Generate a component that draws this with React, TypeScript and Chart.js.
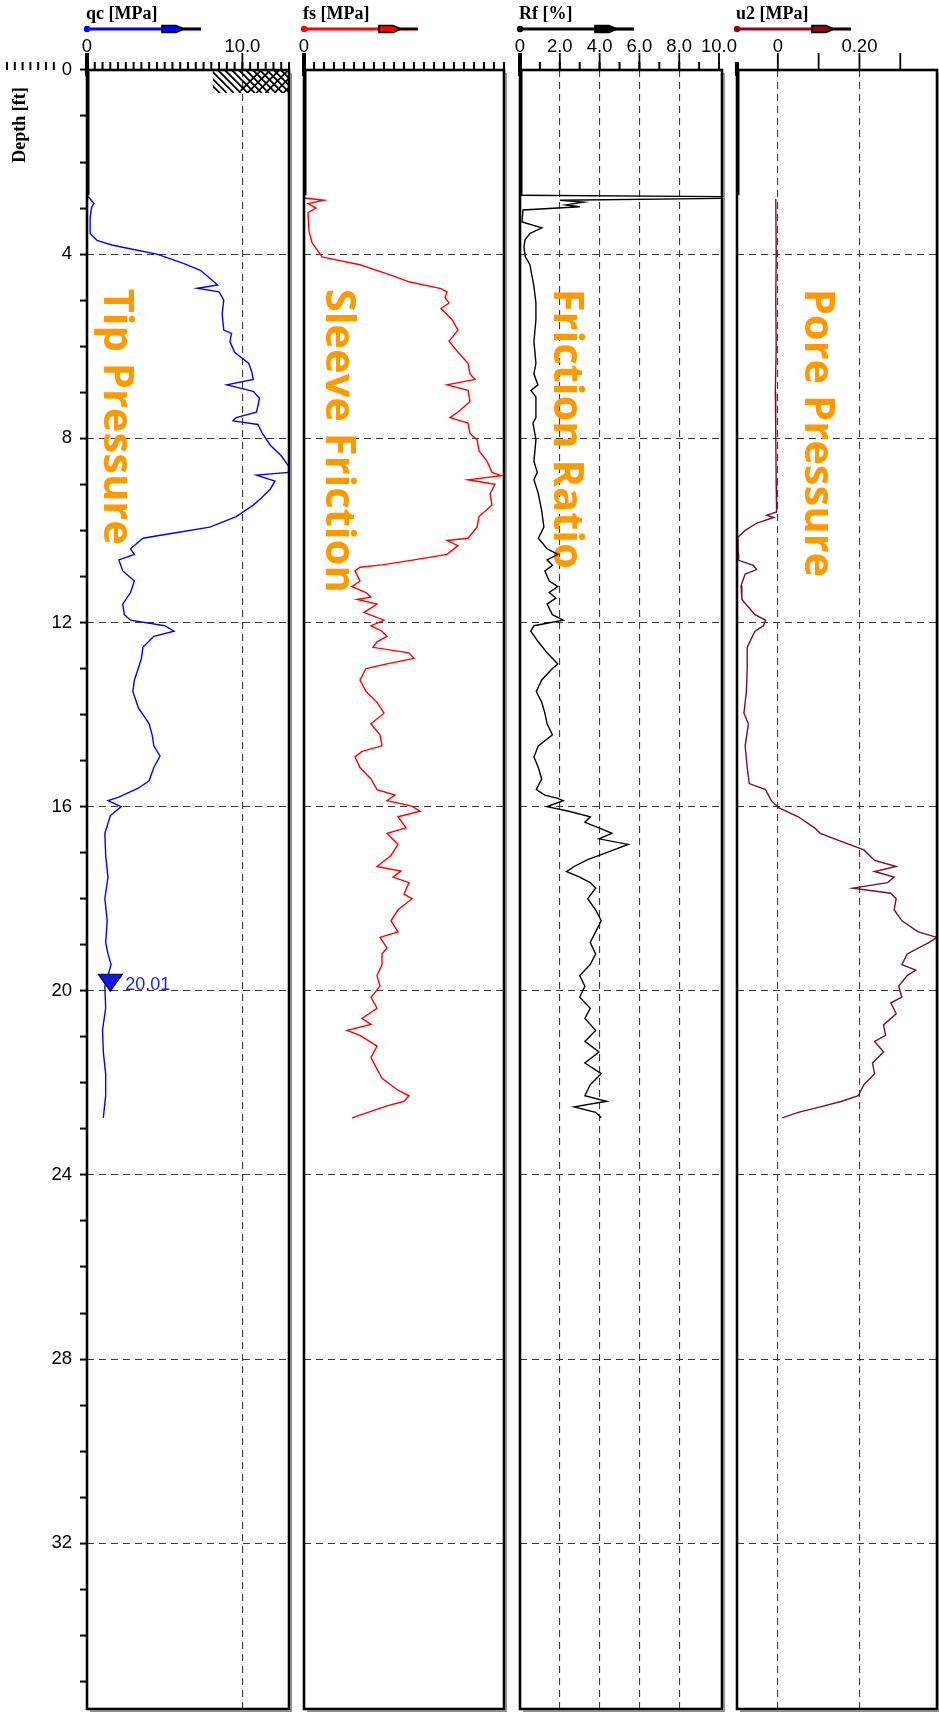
import React, { useEffect, useRef } from "react";
import { Chart, registerables } from "chart.js";

Chart.register(...registerables);

// ---------------- data ----------------
const DEPTH_MAX = 35.6;
const PREDRILL_DEPTH = 2.72;
const depthLabelValues = [0, 4, 8, 12, 16, 20, 24, 28, 32];
const depthGridValues = [4, 8, 12, 16, 20, 24, 28, 32];
const depthMinorStep = 1;

const WATER_DEPTH = 20.01;
const WATER_LABEL = "20.01";
const WATER_MARK_QC = 1.5;

const HATCH_QC_FROM = 8.1;
const HATCH_DEPTH_TO = 0.5;

// [depth ft, qc MPa]
const qcProfile: [number, number][] = [
  [2.72, 0], [2.9, 0.45], [2.98, 0.3], [3.2, 0.2], [3.55, 0.2], [3.7, 0.65], [3.8, 1.6], [3.9, 3.0],
  [4.0, 4.5], [4.2, 6.2], [4.35, 7.3], [4.55, 8.0], [4.67, 8.4], [4.74, 7.1], [4.82, 8.5], [5.0, 8.8],
  [5.3, 8.7], [5.65, 8.8], [5.72, 9.3], [5.9, 9.2], [6.13, 9.5], [6.37, 10.4], [6.55, 10.6], [6.72, 10.7],
  [6.84, 9.0], [6.98, 10.7], [7.13, 11.1], [7.3, 11.0], [7.43, 10.9], [7.55, 9.6], [7.62, 9.4], [7.7, 11.0],
  [7.9, 11.3], [8.15, 11.8], [8.38, 12.5], [8.62, 13.0], [8.74, 12.95], [8.8, 10.9], [8.93, 12.1], [9.1, 11.8],
  [9.3, 11.2], [9.45, 10.7], [9.7, 9.6], [9.93, 7.9], [10.05, 5.7], [10.17, 3.6], [10.4, 2.8], [10.52, 3.05],
  [10.64, 2.05], [10.88, 2.3], [11.1, 3.05], [11.35, 2.8], [11.6, 2.3], [11.83, 2.4], [11.95, 2.8], [12.07, 5.0],
  [12.19, 5.6], [12.3, 4.3], [12.54, 3.6], [12.78, 3.5], [13.0, 3.3], [13.25, 3.05], [13.5, 2.95], [13.85, 3.3],
  [14.2, 4.0], [14.45, 4.2], [14.68, 4.3], [14.9, 4.7], [15.15, 4.3], [15.44, 4.0], [15.6, 3.3], [15.8, 2.0],
  [15.87, 1.35], [16.0, 2.2], [16.2, 1.5], [16.58, 1.15], [17.05, 1.2], [17.53, 1.35], [18.0, 1.15], [18.48, 1.3],
  [18.95, 1.2], [19.2, 1.35], [19.43, 1.55], [19.67, 1.35], [19.9, 1.15], [20.38, 1.2], [20.85, 1.0], [21.33, 1.05],
  [21.8, 1.2], [22.28, 1.2], [22.76, 1.05],
];

// [depth ft, fs MPa]
const fsProfile: [number, number][] = [
  [2.72, 0], [2.78, 0.001], [2.83, 0.02], [2.9, 0.004], [3.0, 0.012], [3.1, 0.004], [3.5, 0.005], [3.75, 0.008],
  [3.9, 0.013], [4.06, 0.018], [4.23, 0.056], [4.47, 0.089], [4.6, 0.105], [4.75, 0.137], [4.82, 0.143], [4.94, 0.141],
  [5.06, 0.145], [5.18, 0.137], [5.42, 0.148], [5.65, 0.154], [5.89, 0.145], [6.13, 0.154], [6.25, 0.159], [6.37, 0.164],
  [6.6, 0.166], [6.72, 0.171], [6.84, 0.143], [6.96, 0.164], [7.2, 0.166], [7.43, 0.154], [7.55, 0.146], [7.67, 0.164],
  [7.9, 0.166], [8.03, 0.173], [8.27, 0.175], [8.5, 0.183], [8.74, 0.188], [8.81, 0.197], [8.9, 0.164], [9.0, 0.191],
  [9.2, 0.186], [9.45, 0.188], [9.7, 0.175], [9.93, 0.173], [10.17, 0.164], [10.22, 0.143], [10.33, 0.154], [10.52, 0.143],
  [10.64, 0.11], [10.75, 0.078], [10.8, 0.056], [10.88, 0.051], [11.1, 0.056], [11.22, 0.048], [11.35, 0.062], [11.45, 0.067],
  [11.5, 0.053], [11.6, 0.073], [11.78, 0.06], [11.95, 0.08], [12.07, 0.067], [12.19, 0.078], [12.3, 0.083], [12.42, 0.073],
  [12.54, 0.069], [12.66, 0.105], [12.78, 0.11], [12.9, 0.083], [13.0, 0.062], [13.25, 0.056], [13.5, 0.062], [13.73, 0.073],
  [13.97, 0.08], [14.2, 0.067], [14.44, 0.076], [14.68, 0.078], [14.8, 0.058], [14.92, 0.051], [15.15, 0.056], [15.4, 0.067],
  [15.63, 0.073], [15.75, 0.091], [15.87, 0.083], [15.99, 0.108], [16.1, 0.116], [16.22, 0.094], [16.46, 0.102], [16.58, 0.083],
  [16.82, 0.094], [17.06, 0.087], [17.3, 0.073], [17.4, 0.097], [17.53, 0.089], [17.65, 0.105], [17.9, 0.1], [18.0, 0.108],
  [18.24, 0.094], [18.48, 0.087], [18.72, 0.094], [18.84, 0.076], [19.07, 0.083], [19.2, 0.078], [19.43, 0.078], [19.67, 0.073],
  [19.9, 0.076], [20.14, 0.067], [20.38, 0.073], [20.6, 0.058], [20.73, 0.067], [20.86, 0.043], [20.97, 0.056], [21.2, 0.073],
  [21.45, 0.067], [21.7, 0.073], [21.9, 0.078], [22.16, 0.094], [22.28, 0.105], [22.4, 0.1], [22.5, 0.083], [22.76, 0.048],
];

// [depth ft, Rf %]
const rfProfile: [number, number][] = [
  [2.72, 0], [2.755, 12], [2.78, 12], [2.83, 2.0], [2.87, 3.2], [2.93, 2.3], [2.97, 3.0], [3.04, 0.15],
  [3.3, 0.1], [3.43, 1.1], [3.55, 0.5], [3.69, 0.25], [3.85, 0.2], [4.06, 0.27], [4.23, 0.5], [4.47, 0.6],
  [4.7, 0.7], [5.06, 0.8], [5.42, 0.8], [5.9, 0.7], [6.37, 0.8], [6.6, 0.7], [6.84, 0.9], [6.96, 0.55],
  [7.1, 0.8], [7.55, 0.8], [7.67, 0.65], [8.03, 0.8], [8.5, 0.7], [8.74, 0.87], [8.9, 0.7], [9.2, 0.92],
  [9.57, 1.09], [9.93, 1.2], [10.17, 0.92], [10.4, 1.36], [10.52, 1.9], [10.64, 1.36], [10.76, 1.63], [10.88, 1.25],
  [11.1, 1.47], [11.22, 1.9], [11.35, 1.47], [11.47, 1.8], [11.6, 1.36], [11.83, 1.63], [11.95, 2.17], [12.07, 0.7],
  [12.19, 0.54], [12.42, 0.92], [12.66, 1.36], [12.9, 1.9], [13.0, 1.63], [13.25, 1.09], [13.5, 0.82], [13.73, 1.09],
  [13.97, 1.25], [14.2, 1.36], [14.44, 1.63], [14.68, 0.92], [14.92, 0.7], [15.15, 0.92], [15.4, 1.09], [15.63, 0.82],
  [15.75, 1.25], [15.82, 1.9], [15.87, 2.17], [16.0, 1.36], [16.1, 2.45], [16.22, 3.53], [16.34, 3.26], [16.46, 3.97],
  [16.58, 4.62], [16.7, 3.97], [16.82, 5.43], [17.0, 4.35], [17.15, 3.4], [17.3, 2.72], [17.41, 2.34], [17.53, 3.0],
  [17.65, 3.53], [17.77, 3.8], [18.0, 3.4], [18.24, 3.8], [18.48, 4.08], [18.72, 3.8], [18.95, 3.53], [19.2, 3.8],
  [19.43, 3.53], [19.67, 3.0], [19.9, 3.26], [20.14, 3.0], [20.38, 3.53], [20.6, 3.26], [20.86, 3.8], [21.1, 3.26],
  [21.33, 3.97], [21.57, 3.26], [21.8, 4.08], [22.04, 3.53], [22.28, 3.26], [22.4, 4.35], [22.52, 2.72], [22.64, 3.8],
  [22.76, 4.08],
];

// [depth ft, u2 MPa]
const u2Profile: [number, number][] = [
  [2.8, -0.005], [4.0, -0.004], [5.0, -0.005], [6.0, -0.004], [7.0, -0.006], [8.0, -0.005], [9.0, -0.004], [9.6, -0.003],
  [9.67, -0.027], [9.72, -0.01], [9.84, -0.051], [10.0, -0.08], [10.15, -0.098], [10.5, -0.097], [10.65, -0.096], [10.76, -0.06],
  [10.85, -0.052], [10.95, -0.08], [11.2, -0.09], [11.5, -0.088], [11.83, -0.056], [11.95, -0.03], [12.07, -0.035], [12.19, -0.056],
  [12.54, -0.075], [13.0, -0.075], [13.5, -0.077], [13.97, -0.083], [14.2, -0.072], [14.68, -0.08], [15.15, -0.075], [15.5, -0.07],
  [15.63, -0.03], [15.87, -0.016], [16.03, 0.003], [16.22, 0.05], [16.46, 0.09], [16.58, 0.104], [16.76, 0.157], [16.94, 0.211],
  [17.17, 0.237], [17.3, 0.29], [17.41, 0.237], [17.53, 0.285], [17.65, 0.269], [17.77, 0.184], [17.88, 0.277], [18.0, 0.29],
  [18.24, 0.285], [18.48, 0.304], [18.72, 0.344], [18.84, 0.39], [18.95, 0.371], [19.2, 0.317], [19.43, 0.304], [19.55, 0.338],
  [19.67, 0.317], [19.9, 0.296], [20.14, 0.304], [20.26, 0.277], [20.5, 0.29], [20.74, 0.259], [20.97, 0.264], [21.1, 0.237],
  [21.33, 0.259], [21.57, 0.232], [21.8, 0.237], [22.04, 0.211], [22.28, 0.197], [22.4, 0.157], [22.52, 0.104], [22.64, 0.05],
  [22.76, 0.011],
];

const qcLabelTicks = [0, 10];
const fsLabelTicks = [0];
const rfLabelTicks = [0, 2, 4, 6, 8, 10];
const u2LabelTicks = [0, 0.2];

// ---------------- layout / style ----------------
const PAGE_W = 939;
const PAGE_H = 1712;
const PLOT_TOP = 70;
const PLOT_BOTTOM = 1709;
const CAPTION_DEPTH = 4.75;
const CAPTION_SIZE = 41.7;
const GRID_COLOR = "#3a3a3a";
const CAPTION_COLOR = "#FF9900";
const SANS = "'Liberation Sans', Arial, sans-serif";
const SERIF = "'Liberation Serif', 'Times New Roman', serif";
const TICK_FONT_SIZE = 18.5;

type PanelDef = {
  key: string;
  title: string;
  caption: string;
  captionOffset: number;
  color: string;
  legendColor: string;
  left: number;
  right: number;
  min: number;
  max: number;
  labelTicks: number[];
  decimals: number;
  gridX: number[];
  minorStep: number | null;
  majorTicks: number[];
  profile: [number, number][];
};

const PANELS: PanelDef[] = [
  {
    key: "qc", title: "qc [MPa]", caption: "Tip Pressure", captionOffset: 17,
    color: "#0000ff", legendColor: "#0000ff", left: 87, right: 289, min: 0, max: 13,
    labelTicks: qcLabelTicks, decimals: 1, gridX: [10], minorStep: 0.5, majorTicks: [0, 10], profile: qcProfile,
  },
  {
    key: "fs", title: "fs [MPa]", caption: "Sleeve Friction", captionOffset: 22,
    color: "#ff0000", legendColor: "#ff0000", left: 304, right: 504, min: 0, max: 0.2,
    labelTicks: fsLabelTicks, decimals: 2, gridX: [], minorStep: 0.01, majorTicks: [0], profile: fsProfile,
  },
  {
    key: "rf", title: "Rf [%]", caption: "Friction Ratio", captionOffset: 34,
    color: "#000000", legendColor: "#000000", left: 520, right: 722, min: 0, max: 10.15,
    labelTicks: rfLabelTicks, decimals: 1, gridX: [2, 4, 6, 8], minorStep: 1, majorTicks: [0, 2, 4, 6, 8, 10], profile: rfProfile,
  },
  {
    key: "u2", title: "u2 [MPa]", caption: "Pore Pressure", captionOffset: 68,
    color: "#7b0c2c", legendColor: "#8b0a1a", left: 737, right: 937, min: -0.1, max: 0.39,
    labelTicks: u2LabelTicks, decimals: 2, gridX: [0, 0.2], minorStep: null, majorTicks: [0, 0.1, 0.2, 0.3], profile: u2Profile,
  },
];

const near = (a: number, list: number[]) => list.some((v) => Math.abs(v - a) < 1e-9);

function makeDecor(p: PanelDef, first: boolean) {
  return {
    id: "decor_" + p.key,
    beforeDatasetsDraw(chart: any) {
      const { ctx, chartArea, scales } = chart;
      ctx.save();
      ctx.font = `bold ${CAPTION_SIZE}px 'Open Sans', 'DejaVu Sans', sans-serif`;
      ctx.fillStyle = CAPTION_COLOR;
      ctx.translate(chartArea.left + p.captionOffset, scales.y.getPixelForValue(CAPTION_DEPTH));
      ctx.rotate(Math.PI / 2);
      ctx.textAlign = "left";
      ctx.textBaseline = "alphabetic";
      ctx.fillText(p.caption, 0, 0);
      ctx.restore();
    },
    afterDraw(chart: any) {
      const { ctx, chartArea, scales } = chart;
      const xs = scales.x;
      const ys = scales.y;
      const { left: l, right: r, top: t, bottom: b } = chartArea;
      ctx.save();

      if (first) {
        // hatch (soil symbol) at the top of the qc panel
        const hx0 = xs.getPixelForValue(HATCH_QC_FROM);
        const hy1 = ys.getPixelForValue(HATCH_DEPTH_TO);
        const h = hy1 - t;
        const hm = hx0 + (r - hx0) * 0.36;
        ctx.save();
        ctx.beginPath();
        ctx.rect(hx0, t, r - hx0, h);
        ctx.clip();
        ctx.strokeStyle = "#000";
        ctx.lineWidth = 1.8;
        ctx.beginPath();
        for (let x = hx0 - h; x < r; x += 7) {
          ctx.moveTo(x, t);
          ctx.lineTo(x + h, hy1);
        }
        ctx.stroke();
        ctx.beginPath();
        ctx.rect(hm, t, r - hm, h);
        ctx.clip();
        ctx.beginPath();
        for (let x = hm - 2; x < r + h; x += 9) {
          ctx.moveTo(x, hy1);
          ctx.lineTo(x + h, t);
        }
        ctx.stroke();
        ctx.restore();

        // water marker
        const wx = xs.getPixelForValue(WATER_MARK_QC);
        const wy = ys.getPixelForValue(WATER_DEPTH);
        ctx.beginPath();
        ctx.moveTo(wx, wy);
        ctx.lineTo(wx - 12, wy - 17);
        ctx.lineTo(wx + 12, wy - 17);
        ctx.closePath();
        ctx.fillStyle = "#1414e6";
        ctx.fill();
        ctx.strokeStyle = "#00003a";
        ctx.lineWidth = 1.2;
        ctx.stroke();
        ctx.fillStyle = "#1a1aff";
        ctx.font = `18px ${SANS}`;
        ctx.textAlign = "left";
        ctx.textBaseline = "middle";
        ctx.fillText(WATER_LABEL, wx + 15, wy - 6);

        // depth title
        ctx.save();
        ctx.translate(20, 125);
        ctx.rotate(-Math.PI / 2);
        ctx.font = `bold 18px ${SERIF}`;
        ctx.fillStyle = "#000";
        ctx.textAlign = "center";
        ctx.textBaseline = "middle";
        ctx.fillText("Depth [ft]", 0, 0);
        ctx.restore();

        // little ruler left of the first panel
        ctx.strokeStyle = "#000";
        ctx.lineWidth = 2;
        ctx.beginPath();
        for (let i = 0; i < 7; i++) {
          const x = 7 + i * 7.8;
          ctx.moveTo(x, t - 8);
          ctx.lineTo(x, t);
        }
        ctx.stroke();
      }

      // ruler ticks on the top axis
      ctx.strokeStyle = "#000";
      if (p.minorStep) {
        ctx.lineWidth = 2;
        ctx.beginPath();
        const n0 = Math.ceil(p.min / p.minorStep - 1e-9);
        const n1 = Math.floor(p.max / p.minorStep + 1e-9);
        for (let n = n0; n <= n1; n++) {
          const x = xs.getPixelForValue(n * p.minorStep);
          ctx.moveTo(x, t - 8);
          ctx.lineTo(x, t);
        }
        ctx.stroke();
      }
      p.majorTicks.forEach((v) => {
        const x = xs.getPixelForValue(v);
        ctx.lineWidth = v === p.min ? 4 : 1.8;
        ctx.beginPath();
        ctx.moveTo(x, t - 17);
        ctx.lineTo(x, t + (v === p.min ? 6 : 0));
        ctx.stroke();
      });
      if (p.min < 0) {
        ctx.lineWidth = 4;
        ctx.beginPath();
        ctx.moveTo(l, t - 8);
        ctx.lineTo(l, t + 6);
        ctx.stroke();
      }

      // panel frame with light shadow
      ctx.strokeStyle = "#8c8c8c";
      ctx.lineWidth = 1.5;
      ctx.beginPath();
      ctx.moveTo(l + 3, b + 2.2);
      ctx.lineTo(r + 2.2, b + 2.2);
      ctx.lineTo(r + 2.2, t + 3);
      ctx.stroke();
      ctx.strokeStyle = "#000";
      ctx.lineWidth = 2.6;
      ctx.strokeRect(l, t, r - l, b - t);

      // header title
      ctx.fillStyle = "#000";
      ctx.font = `bold 18px ${SERIF}`;
      ctx.textAlign = "left";
      ctx.textBaseline = "middle";
      ctx.fillText(p.title, l - 1, 14);

      // legend bar
      const ly = 29;
      ctx.strokeStyle = p.legendColor;
      ctx.lineWidth = 3;
      ctx.beginPath();
      ctx.moveTo(l, ly);
      ctx.lineTo(l + 114, ly);
      ctx.stroke();
      ctx.fillStyle = p.legendColor;
      ctx.beginPath();
      ctx.arc(l, ly, 3.2, 0, Math.PI * 2);
      ctx.fill();
      ctx.beginPath();
      ctx.moveTo(l + 75, ly - 3.5);
      ctx.lineTo(l + 89, ly - 3.5);
      ctx.lineTo(l + 97, ly);
      ctx.lineTo(l + 89, ly + 3.5);
      ctx.lineTo(l + 75, ly + 3.5);
      ctx.closePath();
      ctx.fill();
      ctx.strokeStyle = "#000";
      ctx.lineWidth = 1.6;
      ctx.stroke();
      ctx.lineWidth = 2.4;
      ctx.beginPath();
      ctx.moveTo(l + 97, ly);
      ctx.lineTo(l + 114, ly);
      ctx.stroke();

      ctx.restore();
    },
  };
}

function buildConfig(p: PanelDef, first: boolean): any {
  const fmt = (v: number) => (v === 0 ? "0" : v.toFixed(p.decimals));
  return {
    type: "line",
    data: {
      datasets: [
        {
          data: [
            { x: p.min, y: 0 },
            { x: p.min, y: PREDRILL_DEPTH },
          ],
          borderColor: "#000",
          borderWidth: 5,
          pointRadius: 0,
        },
        {
          data: p.profile.map(([d, v]) => ({ x: v, y: d })),
          borderColor: p.color,
          borderWidth: 1.4,
          pointRadius: 0,
          tension: 0,
        },
      ],
    },
    options: {
      indexAxis: "y",
      responsive: false,
      maintainAspectRatio: false,
      animation: false,
      events: [],
      layout: {
        autoPadding: false,
        padding: { left: 0, top: 0, right: PAGE_W - p.right, bottom: PAGE_H - PLOT_BOTTOM },
      },
      plugins: { legend: { display: false }, tooltip: { enabled: false } },
      scales: {
        x: {
          type: "linear",
          position: "top",
          min: p.min,
          max: p.max,
          afterBuildTicks: (s: any) => {
            s.ticks = p.labelTicks.map((v) => ({ value: v }));
          },
          afterFit: (s: any) => {
            s.height = PLOT_TOP;
            s.paddingLeft = 0;
            s.paddingRight = 0;
          },
          ticks: {
            autoSkip: false,
            maxRotation: 0,
            padding: 12,
            color: "#000",
            font: { family: SANS, size: TICK_FONT_SIZE },
            callback: (v: any) => fmt(Number(v)),
          },
          grid: {
            drawTicks: false,
            lineWidth: 1.1,
            color: (c: any) => (c.tick && near(c.tick.value, p.gridX) ? GRID_COLOR : "rgba(0,0,0,0)"),
          },
          border: { display: false, dash: [7, 5] },
        },
        y: {
          type: "linear",
          position: "left",
          reverse: true,
          min: 0,
          max: DEPTH_MAX,
          afterBuildTicks: (s: any) => {
            const arr: any[] = [];
            for (let v = 0; v <= DEPTH_MAX; v += depthMinorStep) arr.push({ value: v });
            s.ticks = arr;
          },
          afterFit: (s: any) => {
            s.width = p.left;
            s.paddingTop = 0;
            s.paddingBottom = 0;
          },
          ticks: {
            display: first,
            autoSkip: false,
            padding: 8,
            color: "#000",
            font: { family: SANS, size: TICK_FONT_SIZE },
            callback: (v: any) => (depthLabelValues.includes(Number(v)) ? String(v) : ""),
          },
          grid: {
            drawTicks: first,
            tickLength: 7,
            tickWidth: 2,
            tickColor: "#000",
            lineWidth: 1.1,
            color: (c: any) => (c.tick && depthGridValues.includes(c.tick.value) ? GRID_COLOR : "rgba(0,0,0,0)"),
          },
          border: { display: false, dash: [7, 5] },
        },
      },
    },
    plugins: [makeDecor(p, first)],
  };
}

export default function App() {
  const refs = useRef<(HTMLCanvasElement | null)[]>([]);

  useEffect(() => {
    const charts = PANELS.map((p, i) => new Chart(refs.current[i] as HTMLCanvasElement, buildConfig(p, i === 0)));
    return () => charts.forEach((c) => c.destroy());
  }, []);

  return (
    <div
      style={{
        position: "absolute",
        left: 0,
        top: 0,
        width: PAGE_W,
        height: PAGE_H,
        background: "#fff",
        overflow: "hidden",
      }}
    >
      {PANELS.map((p, i) => (
        <canvas
          key={p.key}
          ref={(el) => {
            refs.current[i] = el;
          }}
          width={PAGE_W}
          height={PAGE_H}
          style={{ position: "absolute", left: 0, top: 0, width: PAGE_W, height: PAGE_H }}
        />
      ))}
    </div>
  );
}
